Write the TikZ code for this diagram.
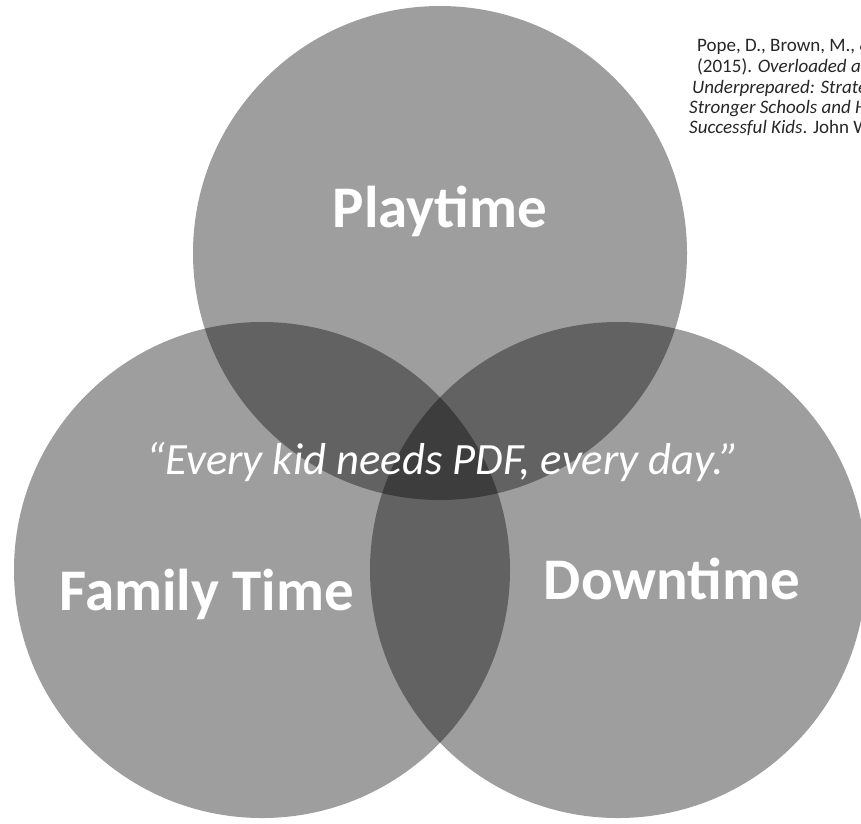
\documentclass[tikz,border=0pt]{standalone}
\usepackage{fontspec}
\setmainfont{Carlito}
\begin{document}
\begin{tikzpicture}[x=1pt, y=-1pt,
  venn/.style={fill=black, fill opacity=0.38},
  setlabel/.style={anchor=base, text=white, font=\bfseries\fontsize{59}{62}\selectfont},
  cite/.style={anchor=base west, inner sep=0pt, text=black!85, font=\fontsize{19}{21}\selectfont}]
\useasboundingbox (0,0) rectangle (861,823);
\clip (0,0) rectangle (861,823);
\fill[venn] (440,253) circle[radius=247];
\fill[venn] (262,570) circle[radius=248];
\fill[venn] (618,570) circle[radius=248];
\node[setlabel] (play) at (440,227) {Playtime};
\node[setlabel] (family) at (207,610) {Family Time};
\node[setlabel] (down) at (672,599) {Downtime};
\node[anchor=base, text=white, font=\itshape\fontsize{44.7}{48}\selectfont] (quote) at (443,474) {“Every kid needs PDF, every day.”};
% reference, cut by the page edge
\node[cite] (cite1) at (697,51) {Pope, D., Brown, M., \& Miles, S.};
\node[cite] (cite2) at (697,72) {(2015). \textit{Overloaded and}};
\node[cite] (cite3) at (692,93) {\textit{Underprepared: Strategies for}};
\node[cite] (cite4) at (689,113) {\textit{Stronger Schools and Healthy,}};
\node[cite] (cite5) at (689,133) {\textit{Successful Kids}. John Wiley};
\end{tikzpicture}
\end{document}
